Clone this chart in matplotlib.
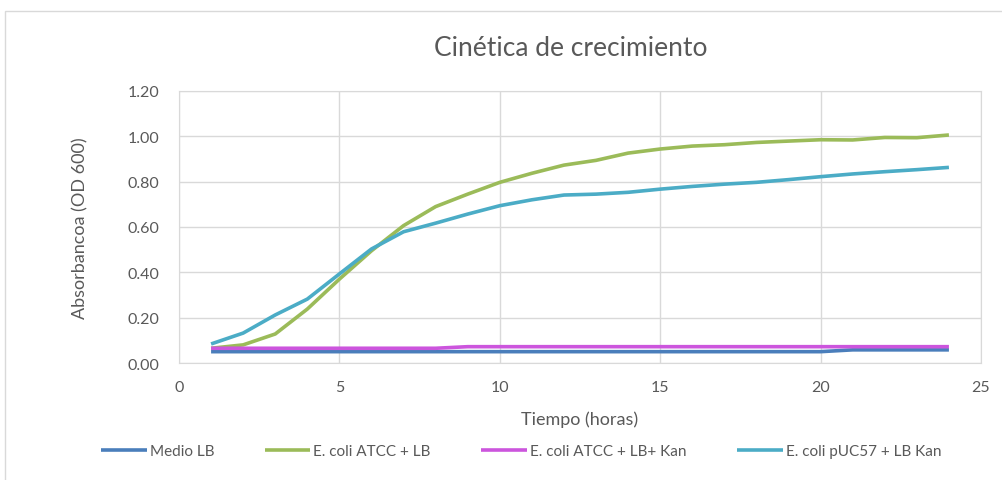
import numpy as np
import matplotlib.pyplot as plt
from matplotlib.patches import Rectangle

# optical density readings, one per hour
horas = list(range(1, 25))
medio_lb = [0.050] * 20 + [0.058] * 4
ecoli_lb = [0.065, 0.080, 0.128, 0.238, 0.370, 0.495, 0.606, 0.690, 0.745, 0.797, 0.837, 0.873,
            0.894, 0.926, 0.944, 0.957, 0.963, 0.973, 0.979, 0.985, 0.984, 0.995, 0.994, 1.006]
ecoli_lb_kan = [0.065] * 8 + [0.072] * 16
puc57_lb_kan = [0.084, 0.132, 0.212, 0.282, 0.393, 0.503, 0.579, 0.617, 0.657, 0.694, 0.720, 0.741,
                0.745, 0.753, 0.767, 0.779, 0.789, 0.797, 0.809, 0.822, 0.834, 0.844, 0.853, 0.863]

series = [('Medio LB', medio_lb, '#4A7EBB'),
          ('E. coli ATCC + LB', ecoli_lb, '#9BBB59'),
          ('E. coli ATCC + LB+ Kan', ecoli_lb_kan, '#CC55DD'),
          ('E. coli pUC57 + LB Kan', puc57_lb_kan, '#4BACC6')]

plt.rcParams['font.family'] = ['Lato', 'DejaVu Sans']
txt = '#595959'
grid = '#D9D9D9'

fig = plt.figure(figsize=(10.02, 4.81), dpi=100)
# chart area frame
fig.patches.append(Rectangle((5 / 1002, -0.1), 1.1, 1 - 12 / 481 + 0.1, transform=fig.transFigure,
                             fill=False, edgecolor=grid, linewidth=1))
ax = fig.add_axes([179 / 1002, 1 - 364 / 481, (981 - 179) / 1002, (364 - 92) / 481])

for name, vals, col in series:
    ax.plot(horas, vals, color=col, linewidth=2.6, label=name, solid_capstyle='butt')

ax.set_xlim(0, 25)
ax.set_ylim(0, 1.2)
ax.set_xticks(np.arange(0, 26, 5))
ax.set_yticks(np.arange(0, 1.21, 0.2))
ax.set_yticklabels(['%.2f' % v for v in np.arange(0, 1.21, 0.2)])
ax.grid(True, color=grid, linewidth=1)
ax.set_axisbelow(True)
for s in ax.spines.values():
    s.set_color(grid)
ax.tick_params(length=0, labelsize=11.5, colors=txt)
ax.tick_params(axis='y', pad=14)
ax.tick_params(axis='x', pad=12)

ax.set_xlabel('Tiempo (horas)', fontsize=13, color=txt, labelpad=12)
ax.set_ylabel('Absorbancoa (OD 600)', fontsize=13, color=txt, labelpad=28)
fig.text(0.57, 1 - 49 / 481, 'Cinética de crecimiento', ha='center', va='center',
         fontsize=19, color=txt)

fig.legend(loc='center', bbox_to_anchor=(0.52, 1 - 452 / 481), ncol=4, frameon=False,
           fontsize=11, labelcolor=txt, handlelength=3, handletextpad=0.2, columnspacing=3.3)

fig.savefig('out.png', dpi=100)
